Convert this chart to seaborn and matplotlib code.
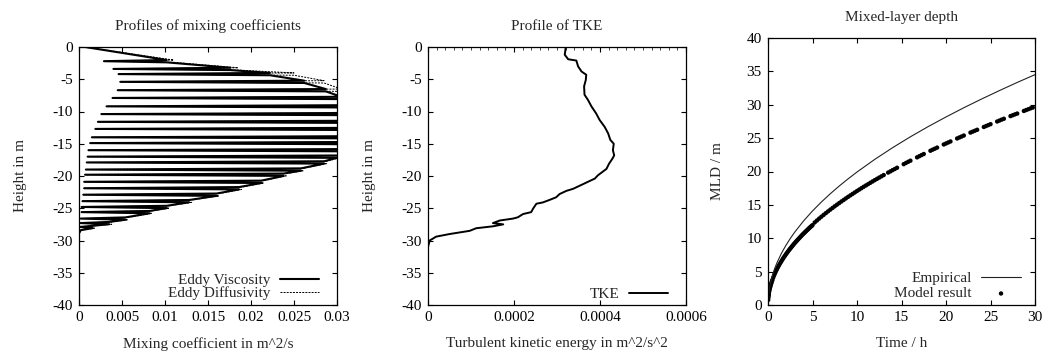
import numpy as np
import pandas as pd
import matplotlib
matplotlib.use("Agg")
import matplotlib.pyplot as plt
import seaborn as sns

# ---------------- data ----------------
# Panel 1: mixing coefficient profiles (noisy zig-zag spikes)
bar_depth = [-2.2, -3.4, -4.2, -5.4, -6.7, -7.9, -9.2, -10.4, -11.6, -12.7, -14.0, -14.9, -16.0,
             -17.0, -17.9, -19.0, -19.8, -20.9, -21.9, -22.9, -23.9, -24.8, -25.6, -26.6, -27.3, -27.9]
visc_low = [0.0029, 0.0040, 0.0046, 0.0048, 0.0045, 0.0039, 0.0032, 0.0026, 0.0022, 0.0019, 0.0015,
            0.0013, 0.0011, 0.0010, 0.0009, 0.0008, 0.0007, 0.0006, 0.0006, 0.0005, 0.0004, 0.0003,
            0.0003, 0.0002, 0.0002, 0.0001]
visc_high = [0.0102, 0.0176, 0.0222, 0.0262, 0.0287, 0.0305, 0.0320, 0.0330, 0.0340, 0.0340, 0.0340,
             0.0330, 0.0320, 0.0300, 0.0285, 0.0258, 0.0238, 0.0212, 0.0186, 0.0160, 0.0128, 0.0102,
             0.0082, 0.0054, 0.0035, 0.0016]
diff_low = [0.0030, 0.0041, 0.0047, 0.0049, 0.0046, 0.0040, 0.0033, 0.0027, 0.0023, 0.0020, 0.0016,
            0.0014, 0.0012, 0.0011, 0.0010, 0.0009, 0.0008, 0.0007, 0.0006, 0.0005, 0.0004, 0.0003,
            0.0003, 0.0002, 0.0002, 0.0001]
diff_high = [0.0110, 0.0185, 0.0250, 0.0285, 0.0305, 0.0320, 0.0330, 0.0340, 0.0350, 0.0350, 0.0350,
             0.0340, 0.0330, 0.0303, 0.0288, 0.0261, 0.0241, 0.0215, 0.0189, 0.0163, 0.0131, 0.0105,
             0.0085, 0.0057, 0.0038, 0.0018]
surface_value = 0.0007
bottom_depth = [-28.4, -28.9, -40.0]
bottom_value = [0.0002, 0.0, 0.0]

mix_xticks = [0, 0.005, 0.01, 0.015, 0.02, 0.025, 0.03]
mix_xticklabels = ["0", "0.005", "0.01", "0.015", "0.02", "0.025", "0.03"]
depth_ticks = [0, -5, -10, -15, -20, -25, -30, -35, -40]
depth_ticklabels = ["0", "-5", "-10", "-15", "-20", "-25", "-30", "-35", "-40"]

# Panel 2: TKE profile
tke_depth = [-0.1, -0.2, -1.2, -1.9, -2.1, -3.0, -3.8, -4.3, -5.1, -6.1, -7.4, -8.2, -9.2, -10.3,
             -11.3, -12.4, -13.4, -14.4, -15.0, -16.0, -16.8, -17.3, -18.1, -18.9, -19.1, -19.9,
             -20.4, -20.9, -21.5, -22.0, -22.3, -22.8, -23.3, -23.7, -24.1, -24.3, -25.1, -25.6,
             -25.9, -26.4, -26.6, -26.9, -27.3, -27.5, -27.8, -28.1, -28.5, -29.0, -29.4, -30.0,
             -31.0, -40.0]
tke_value = [3.20e-4, 3.20e-4, 3.18e-4, 3.26e-4, 3.45e-4, 3.49e-4, 3.57e-4, 3.68e-4, 3.67e-4, 3.63e-4,
             3.64e-4, 3.72e-4, 3.80e-4, 3.91e-4, 3.99e-4, 4.11e-4, 4.19e-4, 4.24e-4, 4.32e-4, 4.30e-4,
             4.33e-4, 4.29e-4, 4.21e-4, 4.15e-4, 4.11e-4, 3.95e-4, 3.88e-4, 3.72e-4, 3.53e-4, 3.37e-4,
             3.22e-4, 3.06e-4, 2.98e-4, 2.83e-4, 2.67e-4, 2.52e-4, 2.44e-4, 2.40e-4, 2.21e-4, 2.09e-4,
             1.98e-4, 1.67e-4, 1.51e-4, 1.75e-4, 1.51e-4, 1.12e-4, 0.97e-4, 0.50e-4, 0.19e-4, 0.04e-4,
             0.0, 0.0]
tke_xticks = [0, 0.0002, 0.0004, 0.0006]
tke_xticklabels = ["0", "0.0002", "0.0004", "0.0006"]

# Panel 3: mixed-layer depth
emp_time = [0, 0.02, 0.05, 0.1, 0.25, 0.5, 0.75, 1, 1.5, 2, 2.5, 3, 4, 5, 6, 7, 8, 9, 10, 12, 14,
            16, 18, 20, 22, 24, 26, 28, 30]
emp_mld = [0, 0.89, 1.41, 1.99, 3.15, 4.45, 5.46, 6.30, 7.72, 8.91, 9.96, 10.91, 12.60, 14.09,
           15.43, 16.67, 17.82, 18.90, 19.92, 21.82, 23.57, 25.20, 26.73, 28.17, 29.55, 30.86,
           32.12, 33.34, 34.51]

model_time = [0.02, 0.04, 0.06, 0.08, 0.1, 0.15, 0.2, 0.25, 0.3, 0.35, 0.4, 0.45, 0.5, 0.6, 0.7,
              0.8, 0.9, 1.0, 1.1, 1.2, 1.3, 1.4, 1.5, 1.6, 1.7, 1.8, 1.9, 2.0, 2.1, 2.2, 2.3, 2.4,
              2.5, 2.6, 2.7, 2.8, 2.9, 3.0, 3.1, 3.2, 3.3, 3.4, 3.5, 3.6, 3.7, 3.8, 3.9, 4.0, 4.1,
              4.2, 4.3, 4.4, 4.5, 4.6, 4.7, 4.8, 4.9, 5.0,
              5.25, 5.5, 5.75, 6.0, 6.25, 6.5, 6.75, 7.0, 7.25, 7.5, 7.75, 8.0, 8.25, 8.5, 8.75,
              9.0, 9.25, 9.5, 9.75, 10.0, 10.25, 10.5, 10.75, 11.0, 11.25, 11.5, 11.75, 12.0,
              12.25, 12.5, 12.75, 13.0, 13.5, 13.75, 14.0, 14.25, 14.5,
              15.25, 15.5, 15.75, 16.0, 16.75, 17.0, 17.25, 17.5, 18.25, 18.5, 18.75, 19.0,
              19.75, 20.0, 20.25, 20.5, 21.25, 21.5, 21.75, 22.0, 22.75, 23.0, 23.25, 23.5,
              24.25, 24.5, 24.75, 25.0, 25.75, 26.0, 26.25, 26.5, 27.25, 27.5, 27.75, 28.0,
              28.75, 29.0, 29.25, 29.5, 29.75]
model_mld = [0.76, 1.07, 1.31, 1.51, 1.69, 2.07, 2.39, 2.68, 2.93, 3.17, 3.38, 3.59, 3.78, 4.15, 4.48,
             4.78, 5.08, 5.35, 5.61, 5.86, 6.10, 6.33, 6.55, 6.77, 6.98, 7.18, 7.37, 7.56, 7.75, 7.93,
             8.12, 8.29, 8.46, 8.62, 8.79, 8.95, 9.11, 9.27, 9.42, 9.57, 9.72, 9.87, 10.01, 10.15,
             10.29, 10.43, 10.57, 10.70, 10.83, 10.96, 11.10, 11.22, 11.35, 11.48, 11.60, 11.72,
             11.84, 11.96,
             12.37, 12.66, 12.95, 13.23, 13.50, 13.77, 14.03, 14.29, 14.54, 14.79, 15.03, 15.27,
             15.51, 15.74, 15.97, 16.20, 16.42, 16.64, 16.86, 17.08, 17.29, 17.50, 17.71, 17.91,
             18.11, 18.31, 18.51, 18.71, 18.90, 19.09, 19.28, 19.47, 19.84, 20.02, 20.21,
             20.38, 20.56,
             21.10, 21.28, 21.45, 21.62, 22.12, 22.29, 22.46, 22.62, 23.11, 23.27, 23.42, 23.58,
             24.05, 24.20, 24.35, 24.50, 24.95, 25.10, 25.24, 25.39, 25.83, 25.97, 26.11, 26.25,
             26.67, 26.81, 26.95, 27.09, 27.49, 27.63, 27.77, 27.90, 28.30, 28.43, 28.56, 28.68,
             29.07, 29.20, 29.33, 29.46, 29.58]
mld_ticks = [0, 5, 10, 15, 20, 25, 30, 35, 40]
time_ticks = [0, 5, 10, 15, 20, 25, 30]

# ---------------- style ----------------
sns.set_theme(style="ticks")
plt.rcParams["font.family"] = ["Liberation Serif", "DejaVu Serif"]
plt.rcParams["axes.unicode_minus"] = False
FS = 11
plt.rcParams["font.size"] = FS

fig = plt.figure(figsize=(10.47, 3.56), dpi=100)
W, H = 1047.0, 356.0


def axes_px(left, top, right, bottom):
    return fig.add_axes([left / W, 1 - bottom / H, (right - left) / W, (bottom - top) / H])


def style_axes(ax):
    for s in ax.spines.values():
        s.set_linewidth(0.9)
        s.set_color("black")
        s.set_visible(True)
    ax.tick_params(axis="both", which="major", direction="in", top=True, right=True,
                   length=3.5, width=0.8, labelsize=FS, pad=4.5, colors="black")
    ax.set_facecolor("white")


def spike_path(depths, lows, highs):
    zs = [0.0]
    xs = [surface_value]
    half = 0.18
    for z, lo, hi in zip(depths, lows, highs):
        zs += [z + half, z, z - half]
        xs += [hi, lo, hi]
    zs += bottom_depth
    xs += bottom_value
    return pd.DataFrame({"x": xs, "z": zs})


# ---- Panel 1 ----
ax1 = axes_px(79, 47, 337, 305)
visc = spike_path(bar_depth, visc_low, visc_high)
diff = spike_path(bar_depth, diff_low, diff_high)
sns.lineplot(data=diff, x="x", y="z", sort=False, estimator=None, ax=ax1, color="black",
             lw=0.7, linestyle=(0, (2.0, 1.2)), label="Eddy Diffusivity", zorder=2)
sns.lineplot(data=visc, x="x", y="z", sort=False, estimator=None, ax=ax1, color="black",
             lw=1.5, label="Eddy Viscosity", zorder=3)
ax1.set_xlim(0, 0.03)
ax1.set_ylim(-40, 0)
ax1.set_xticks(mix_xticks)
ax1.set_xticklabels(mix_xticklabels)
ax1.set_yticks(depth_ticks)
ax1.set_yticklabels(depth_ticklabels)
style_axes(ax1)
ax1.set_xlabel("Mixing coefficient in m^2/s", fontsize=FS, labelpad=9)
ax1.set_ylabel("Height in m", fontsize=FS, labelpad=18)
ax1.set_title("Profiles of mixing coefficients", fontsize=FS, pad=12)
h, l = ax1.get_legend_handles_labels()
order = [l.index("Eddy Viscosity"), l.index("Eddy Diffusivity")]
ax1.legend([h[i] for i in order], [l[i] for i in order], loc="lower right", frameon=False,
           markerfirst=False, handlelength=2.6, labelspacing=-0.05, fontsize=FS,
           borderaxespad=0.0, bbox_to_anchor=(0.955, -0.004), handletextpad=0.6)

# ---- Panel 2 ----
ax2 = axes_px(428, 47, 686, 305)
tke = pd.DataFrame({"x": tke_value, "z": tke_depth})
sns.lineplot(data=tke, x="x", y="z", sort=False, estimator=None, ax=ax2, color="black",
             lw=1.4, label="TKE")
ax2.set_xlim(0, 0.0006)
ax2.set_ylim(-40, 0)
ax2.set_xticks(tke_xticks)
ax2.set_xticklabels(tke_xticklabels)
ax2.set_yticks(depth_ticks)
ax2.set_yticklabels(depth_ticklabels)
style_axes(ax2)
ax2.xaxis.set_minor_locator(matplotlib.ticker.MultipleLocator(0.00002))
ax2.tick_params(axis="x", which="minor", direction="in", top=True, bottom=False,
                length=2, width=0.6)
ax2.set_xlabel("Turbulent kinetic energy in m^2/s^2", fontsize=FS, labelpad=9)
ax2.set_ylabel("Height in m", fontsize=FS, labelpad=18)
ax2.set_title("Profile of TKE", fontsize=FS, pad=12)
ax2.legend(loc="lower right", frameon=False, markerfirst=False, handlelength=2.6,
           fontsize=FS, borderaxespad=0.0, bbox_to_anchor=(0.955, -0.008), handletextpad=0.6)

# ---- Panel 3 ----
ax3 = axes_px(768, 38, 1035, 305)
emp = pd.DataFrame({"t": emp_time, "mld": emp_mld})
mod = pd.DataFrame({"t": model_time, "mld": model_mld})
sns.lineplot(data=emp, x="t", y="mld", sort=False, estimator=None, ax=ax3, color="#222222",
             lw=0.8, label="Empirical")
sns.scatterplot(data=mod, x="t", y="mld", ax=ax3, color="black", s=10, edgecolor="none",
                linewidth=0, label="Model result")
ax3.set_xlim(0, 30)
ax3.set_ylim(0, 40)
ax3.set_xticks(time_ticks)
ax3.set_yticks(mld_ticks)
style_axes(ax3)
ax3.set_xlabel("Time / h", fontsize=FS, labelpad=9)
ax3.set_ylabel("MLD / m", fontsize=FS, labelpad=16)
ax3.set_title("Mixed-layer depth", fontsize=FS, pad=12)
ax3.legend(loc="lower right", frameon=False, markerfirst=False, handlelength=2.6,
           labelspacing=0.1, fontsize=FS, borderaxespad=0.0, bbox_to_anchor=(0.97, -0.006),
           handletextpad=0.6)

fig.savefig("out.png", dpi=100, facecolor="white")
